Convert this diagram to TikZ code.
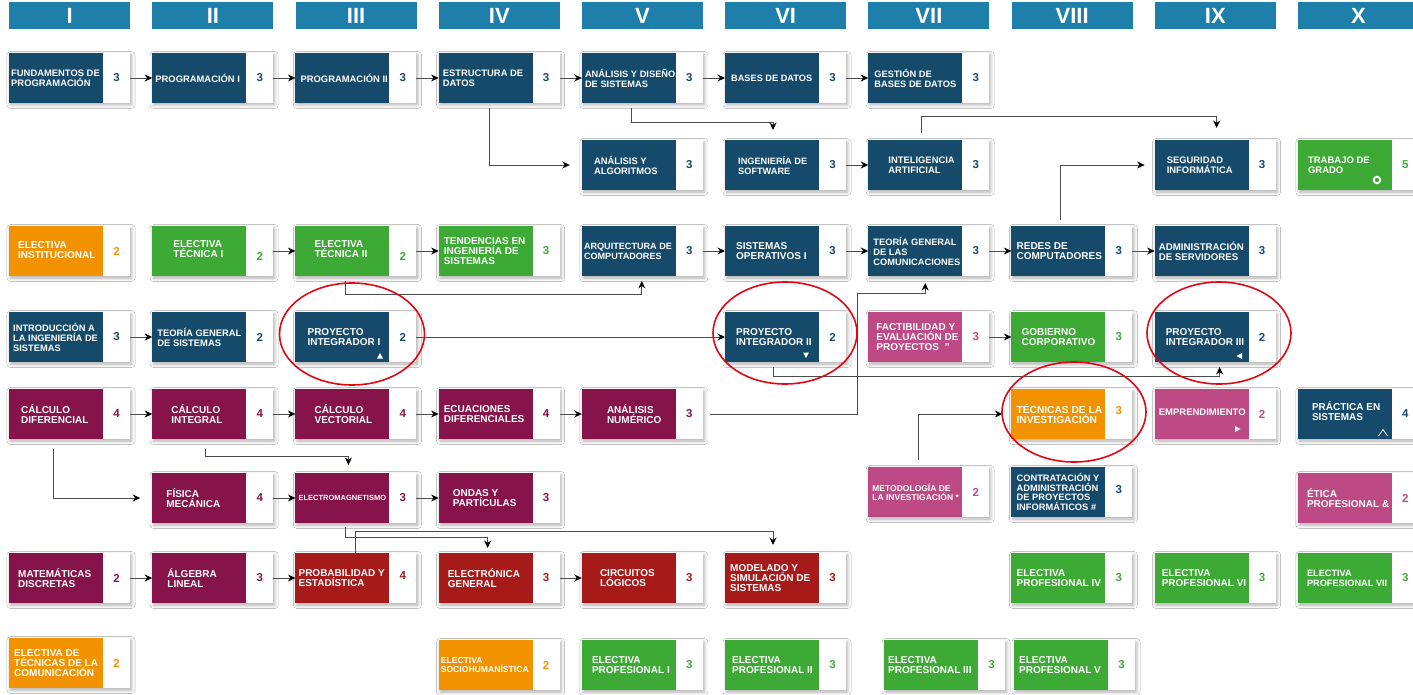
\documentclass[tikz,border=0pt]{standalone}
\usepackage{fontspec}
\setmainfont{Liberation Sans}
\usetikzlibrary{arrows.meta,shadows.blur}
\definecolor{hdrblue}{RGB}{29,127,170}
\definecolor{dblue}{RGB}{21,74,107}
\definecolor{cgreen}{RGB}{61,170,53}
\definecolor{corange}{RGB}{243,146,0}
\definecolor{cmaroon}{RGB}{134,20,74}
\definecolor{cred}{RGB}{167,26,26}
\definecolor{cpink}{RGB}{189,73,133}
\definecolor{ering}{RGB}{227,6,19}
\newcommand\crs[9]{%
  \node[box] (#1) at (#2,#3) {};
  \fill[#4] (#1.north west) rectangle ([xshift=94pt]#1.south west);
  \node[ctext,#8] at ([xshift=#5pt]#1.west) {#7};
  \node[cnum,text=#4] at ([xshift=107.5pt,yshift=#9pt]#1.west) {#6};
}
\begin{document}
\begin{tikzpicture}[x=1pt,y=-1pt,
  box/.style={anchor=north west, fill=white, minimum width=121pt, minimum height=50pt, inner sep=0pt, outer sep=0pt,
    blur shadow={shadow xshift=1.5pt, shadow yshift=-2pt, shadow blur radius=3.5pt, shadow opacity=32}},
  ctext/.style={anchor=west, text=white, align=left, inner sep=0pt, font=\fontsize{10pt}{10pt}\selectfont\bfseries},
  fs/.style={font=\fontsize{#1pt}{10pt}\selectfont\bfseries},
  fsb/.style={font=\fontsize{#1pt}{9pt}\selectfont\bfseries},
  cnum/.style={inner sep=0pt, font=\fontsize{11.5pt}{12pt}\selectfont\bfseries},
  hdr/.style={anchor=north west, fill=hdrblue, text=white, minimum width=121pt, minimum height=27pt, inner sep=0pt,
    font=\fontsize{22pt}{24pt}\selectfont\bfseries},
  arr/.style={draw=black!70, line width=0.9pt, -{Stealth[length=7.5pt,width=7pt,color=black]}},
  ell/.style={draw=ering, line width=1.6pt}
]
\fill[white] (0,0) rectangle (1413,695);
\useasboundingbox (0,0) rectangle (1413,695);

% headers
\foreach \i/\t in {1/I,2/II,3/III,4/IV,5/V,6/VI,7/VII,8/VIII,9/IX,10/X}
  \node[hdr] (h\i) at ({9+143.2*(\i-1)},2) {\t};

% row 1
\crs{fund}{9}{53}{dblue}{2}{3}{FUNDAMENTOS DE\\PROGRAMACIÓN}{fs=9.4}{0}
\crs{prog1}{152.2}{53}{dblue}{3}{3}{PROGRAMACIÓN I}{fs=9.4}{0}
\crs{prog2}{295.4}{53}{dblue}{5}{3}{PROGRAMACIÓN II}{fs=9.4}{0}
\crs{estr}{438.6}{53}{dblue}{4}{3}{ESTRUCTURA DE\\DATOS}{fs=9.4}{0}
\crs{ads}{581.8}{53}{dblue}{3}{3}{ANÁLISIS Y DISEÑO\\DE SISTEMAS}{fs=9.3}{0}
\crs{bd}{725}{53}{dblue}{6}{3}{BASES DE DATOS}{fs=9.2}{0}
\crs{gbd}{868.2}{53}{dblue}{6}{3}{GESTIÓN DE\\BASES DE DATOS}{fs=9.3}{0}
% row 2
\crs{alg}{581.8}{140}{dblue}{12}{3}{ANÁLISIS Y\\ALGORITMOS}{fs=9.4}{0}
\crs{ing}{725}{140}{dblue}{13}{3}{INGENIERÍA DE\\SOFTWARE}{fs=9.2}{0}
\crs{ia}{868.2}{140}{dblue}{20}{3}{INTELIGENCIA\\ARTIFICIAL}{fs=9.4}{0}
\crs{seg}{1154.6}{140}{dblue}{12}{3}{SEGURIDAD\\INFORMÁTICA}{fs=9.4}{0}
\crs{tg}{1297.8}{140}{cgreen}{10}{5}{TRABAJO DE\\GRADO}{fs=9.5}{0}
% row 3
\crs{ei}{9}{226}{corange}{9}{2}{ELECTIVA\\INSTITUCIONAL}{yshift=1pt}{0}
\crs{et1}{152.2}{226}{cgreen}{21}{2}{ELECTIVA\\TÉCNICA I}{yshift=1.5pt}{-5}
\crs{et2}{295.4}{226}{cgreen}{19}{2}{ELECTIVA\\TÉCNICA II}{yshift=1.5pt}{-5}
\crs{tend}{438.6}{226}{cgreen}{5}{3}{TENDENCIAS EN\\INGENIERÍA DE\\SISTEMAS}{}{0}
\crs{arq}{581.8}{226}{dblue}{2}{3}{ARQUITECTURA DE\\COMPUTADORES}{fs=9.1}{0}
\crs{so1}{725}{226}{dblue}{11}{3}{SISTEMAS\\OPERATIVOS I}{}{0}
\crs{tgc}{868.2}{226}{dblue}{5}{3}{TEORÍA GENERAL\\DE LAS\\COMUNICACIONES}{fs=9.3}{0}
\crs{redes}{1011.4}{226}{dblue}{5}{3}{REDES DE\\COMPUTADORES}{}{0}
\crs{adm}{1154.6}{226}{dblue}{4}{3}{ADMINISTRACIÓN\\DE SERVIDORES}{fs=9.7}{0}
% row 4
\crs{intro}{9}{312}{dblue}{4}{3}{INTRODUCCIÓN A\\LA INGENIERÍA DE\\SISTEMAS}{fs=9.3}{0}
\crs{tgs}{152.2}{312}{dblue}{5}{2}{TEORÍA GENERAL\\DE SISTEMAS}{fs=9.4}{0}
\crs{p1}{295.4}{312}{dblue}{12}{2}{PROYECTO\\INTEGRADOR I}{}{0}
\crs{p2}{725}{312}{dblue}{11}{2}{PROYECTO\\INTEGRADOR II}{}{0}
\crs{fact}{868.2}{312}{cpink}{8}{3}{FACTIBILIDAD Y\\EVALUACIÓN DE\\PROYECTOS \ "}{}{0}
\crs{gob}{1011.4}{312}{cgreen}{10}{3}{GOBIERNO\\CORPORATIVO}{}{0}
\crs{p3}{1154.6}{312}{dblue}{11}{2}{PROYECTO\\INTEGRADOR III}{}{0}
% row 5
\crs{cdif}{9}{389}{cmaroon}{12}{4}{CÁLCULO\\DIFERENCIAL}{}{0}
\crs{cint}{152.2}{389}{cmaroon}{19}{4}{CÁLCULO\\INTEGRAL}{}{0}
\crs{cvec}{295.4}{389}{cmaroon}{19}{4}{CÁLCULO\\VECTORIAL}{}{0}
\crs{ecua}{438.6}{389}{cmaroon}{5}{4}{ECUACIONES\\DIFERENCIALES}{}{0}
\crs{anum}{581.8}{389}{cmaroon}{25}{3}{ANÁLISIS\\NUMÉRICO}{}{0}
\crs{tec}{1011.4}{389}{corange}{5}{3}{TÉCNICAS DE LA\\INVESTIGACIÓN}{fs=10.2}{3}
\crs{emp}{1154.6}{389}{cpink}{4}{2}{EMPRENDIMIENTO}{fs=9.5,yshift=2pt}{0}
\crs{prac}{1297.8}{389}{dblue}{14}{4}{PRÁCTICA EN\\SISTEMAS}{yshift=3pt}{0}
% row 6
\crs{fis}{152.2}{473}{cmaroon}{14}{4}{FÍSICA\\MECÁNICA}{}{0}
\crs{em}{295.4}{473}{cmaroon}{3}{3}{ELECTROMAGNETISMO}{fs=7.5}{0}
\crs{ondas}{438.6}{473}{cmaroon}{14}{3}{ONDAS Y\\PARTÍCULAS}{}{0}
\crs{met}{868.2}{467}{cpink}{4}{2}{METODOLOGÍA DE\\LA INVESTIGACIÓN *}{fsb=8.5}{0}
\crs{contr}{1011.4}{467}{dblue}{5}{3}{CONTRATACIÓN Y\\ADMINISTRACIÓN\\DE PROYECTOS\\INFORMÁTICOS \#}{font=\fontsize{9.3pt}{9.5pt}\selectfont\bfseries}{2}
\crs{etica}{1297.8}{473}{cpink}{9}{2}{ÉTICA\\PROFESIONAL \&}{}{0}
% row 7
\crs{mat}{9}{553}{cmaroon}{9}{2}{MATEMÁTICAS\\DISCRETAS}{}{0}
\crs{algl}{152.2}{553}{cmaroon}{15}{3}{ÁLGEBRA\\LINEAL}{}{0}
\crs{prob}{295.4}{553}{cred}{3}{4}{PROBABILIDAD Y\\ESTADÍSTICA}{}{2}
\crs{elec}{438.6}{553}{cred}{9}{3}{ELECTRÓNICA\\GENERAL}{}{0}
\crs{circ}{581.8}{553}{cred}{18}{3}{CIRCUITOS\\LÓGICOS}{}{0}
\crs{mod}{725}{553}{cred}{5}{3}{MODELADO Y\\SIMULACIÓN DE\\SISTEMAS}{}{0}
\crs{ep4}{1011.4}{553}{cgreen}{5}{3}{ELECTIVA\\PROFESIONAL IV}{}{0}
\crs{ep6}{1154.6}{553}{cgreen}{7}{3}{ELECTIVA\\PROFESIONAL VI}{}{0}
\crs{ep7}{1297.8}{553}{cgreen}{9}{3}{ELECTIVA\\PROFESIONAL VII}{fs=9.2}{0}
% row 8
\crs{etc}{9}{638}{corange}{5}{2}{ELECTIVA DE\\TÉCNICAS DE LA\\COMUNICACIÓN}{}{0}
\crs{esh}{438.6}{640}{corange}{2}{2}{ELECTIVA\\SOCIOHUMANÍSTICA}{fsb=8.6}{0}
\crs{ep1}{581.8}{640}{cgreen}{10}{3}{ELECTIVA\\PROFESIONAL I}{}{0}
\crs{ep2}{725}{640}{cgreen}{7}{3}{ELECTIVA\\PROFESIONAL II}{}{0}
\crs{ep3}{884}{640}{cgreen}{4}{3}{ELECTIVA\\PROFESIONAL III}{}{0}
\crs{ep5}{1014}{640}{cgreen}{5}{3}{ELECTIVA\\PROFESIONAL V}{}{0}

% small marks
\fill[white] (377,358.5) -- (383,358.5) -- (380,353) -- cycle;
\fill[white] (803,352.5) -- (809,352.5) -- (806,358) -- cycle;
\fill[white] (1242,353) -- (1242,359) -- (1236.5,356) -- cycle;
\fill[white] (1235,426) -- (1235,432) -- (1240.5,429) -- cycle;
\draw[white, line width=0.8pt] (1378.5,436) -- (1383,429.5) -- (1387.5,436);
\draw[white, line width=1.8pt] (1377,180) circle [radius=3.3pt];

% straight connectors
\foreach \a/\b in {fund/prog1,prog1/prog2,prog2/estr,estr/ads,ads/bd,bd/gbd,ing/ia,
  et1/et2,et2/tend,arq/so1,so1/tgc,tgc/redes,redes/adm,intro/tgs,p1/p2,fact/gob,
  cdif/cint,cint/cvec,cvec/ecua,ecua/anum,fis/em,em/ondas,mat/algl,algl/prob,elec/circ}
  \draw[arr] (\a.east) -- (\b.west);

% elbow connectors
\draw[arr] ([xshift=51pt,yshift=-5pt]estr.south west) |- ([xshift=-12pt]alg.west);
\draw[arr] ([xshift=50pt,yshift=-5pt]ads.south west) -- ++(0,14) -| ([xshift=48pt,yshift=10pt]ing.north west);
\draw[arr] ([xshift=53pt,yshift=7pt]ia.north west) -- ++(0,-17) -| ([xshift=62pt,yshift=12pt]seg.north west);
\draw[arr] ([xshift=49pt,yshift=6pt]redes.north west) |- ([xshift=-10pt]seg.west);
\draw[arr] ([xshift=50pt,yshift=-5pt]et2.south west) -- ++(0,13) -| ([xshift=60pt,yshift=-5pt]arq.south west);
\draw[arr] ([xshift=7pt]anum.east) -- ++(148,0) -- ++(0,-121) -| ([xshift=57pt,yshift=-7pt]tgc.south west);
\draw[arr] ([xshift=48pt,yshift=-5pt]p2.south west) -- ++(0,9) -| ([xshift=65pt,yshift=-5pt]p3.south west);
\draw[arr] ([xshift=44pt,yshift=-10pt]cdif.south west) |- ([xshift=-12pt]fis.west);
\draw[arr] ([xshift=53pt,yshift=-10pt]cint.south west) -- ++(0,7) -| ([xshift=53pt,yshift=8pt]em.north west);
\draw[arr] ([xshift=50pt,yshift=-4pt]em.south west) -- ++(0,10) -| ([xshift=49pt,yshift=5pt]elec.north west);
\draw[arr] ([xshift=60pt]prob.north west) -- ++(0,-22) -| ([xshift=48pt,yshift=8pt]mod.north west);
\draw[arr] ([xshift=50pt,yshift=7pt]met.north west) |- ([xshift=-9pt]tec.west);

% red ellipses
\draw[ell] (352,334) ellipse [x radius=72.5pt, y radius=51pt];
\draw[ell] (785,333) ellipse [x radius=72pt, y radius=51pt];
\draw[ell] (1219,333) ellipse [x radius=72pt, y radius=51pt];
\draw[ell] (1074,412) ellipse [x radius=72pt, y radius=50pt];
\end{tikzpicture}
\end{document}
